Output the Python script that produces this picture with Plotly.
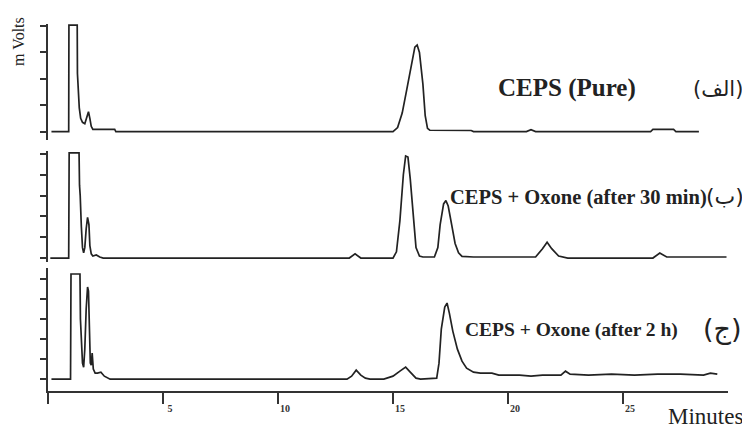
import plotly.graph_objects as go

# ---- data (time in minutes, response in mV-like units) ----
t_pure = [0.15, 0.9, 0.91, 1.27, 1.28, 1.32, 1.36, 1.42, 1.5, 1.6, 1.7, 1.76, 1.82, 1.88, 1.95,
          2.9, 2.95, 15.0, 15.2, 15.4, 15.6, 15.8, 15.95, 16.05, 16.15, 16.3, 16.4, 16.5, 16.6,
          18.4, 18.5, 20.8, 21.0, 21.2, 26.2, 26.3, 27.2, 27.3, 28.3]
v_pure = [0, 0, 4.04, 4.04, 2.2, 1.3, 0.9, 0.5, 0.35, 0.3, 0.55, 0.75, 0.5, 0.2, 0.08,
          0.08, 0, 0, 0.15, 0.7, 1.6, 2.6, 3.2, 3.28, 3.0, 1.8, 0.6, 0.12, 0.05,
          0.04, 0, 0, 0.07, 0, 0, 0.08, 0.08, 0, 0]

t_30min = [0.1, 0.9, 0.92, 1.35, 1.37, 1.40, 1.45, 1.5, 1.55, 1.6, 1.66, 1.72, 1.78, 1.82, 1.88,
           1.95, 2.1, 2.25, 2.4, 13.1, 13.35, 13.6, 15.0, 15.15, 15.3, 15.45, 15.55, 15.65, 15.75,
           15.9, 16.0, 16.15, 16.3, 16.8, 16.95, 17.05, 17.2, 17.3, 17.4, 17.55, 17.7, 17.85, 18.0,
           18.5, 21.2, 21.5, 21.7, 21.9, 22.2, 22.6, 26.3, 26.6, 26.9, 29.5]
v_30min = [0, 0, 5.05, 5.05, 3.5, 3.0, 1.5, 0.5, 0.25, 0.5, 1.4, 1.95, 1.6, 0.6, 0.2,
           0.1, 0.15, 0.05, 0, 0, 0.2, 0, 0, 0.3, 1.8, 4.0, 4.9, 4.85, 3.8,
           1.8, 0.5, 0.1, 0.05, 0.05, 0.5, 1.6, 2.6, 2.76, 2.5, 1.6, 0.7, 0.25, 0.08,
           0.05, 0.05, 0.45, 0.76, 0.45, 0.1, 0, 0, 0.24, 0.05, 0.05]

t_2h = [0.15, 0.98, 1.0, 1.39, 1.41, 1.45, 1.5, 1.55, 1.6, 1.66, 1.72, 1.76, 1.8, 1.84, 1.88,
        1.92, 1.97, 2.05, 2.15, 2.3, 2.45, 2.6, 2.7, 13.0, 13.2, 13.4, 13.6, 13.8, 14.0, 14.6,
        15.0, 15.3, 15.55, 15.75, 16.0, 16.2, 16.9, 17.0, 17.1, 17.25, 17.35, 17.45, 17.6, 17.8,
        18.0, 18.2, 18.5, 18.8, 19.3, 19.6, 20.5, 21.0, 21.5, 22.3, 22.5, 22.7, 23.5, 24.5,
        25.5, 26.5, 27.5, 28.5, 28.8, 29.1]
v_2h = [0, 0, 5.25, 5.25, 3.0, 1.5, 0.8, 0.6, 1.5, 3.5, 4.6, 4.4, 2.0, 0.8, 0.7,
        1.3, 0.5, 0.3, 0.3, 0.35, 0.15, 0.05, 0, 0, 0.15, 0.45, 0.2, 0.05, 0, 0,
        0.15, 0.4, 0.6, 0.35, 0.05, 0, 0.05, 0.8, 2.5, 3.6, 3.8, 3.3, 2.4, 1.5,
        0.9, 0.55, 0.35, 0.3, 0.3, 0.2, 0.2, 0.15, 0.2, 0.2, 0.4, 0.25, 0.2, 0.25,
        0.2, 0.25, 0.25, 0.2, 0.3, 0.25]

x_tickvals = [0, 5, 10, 15, 20, 25]
x_ticktext = ["", "5", "10", "15", "20", "25"]
label_pure = "CEPS (Pure)"
label_30 = "CEPS + Oxone (after 30 min)"
label_2h = "CEPS + Oxone (after 2 h)"
ar_a, ar_b, ar_c = "(الف)", "(ب)", "(ج)"

# ---- layout geometry (page body has an 8px margin, so the figure is shifted by OFF) ----
OFF = 8
W, H = 750 - OFF, 432 - OFF
L, T = 48 - OFF, 24 - OFF
R = W - (728 - OFF)
B = H - (391 - OFF)
PW, PH = W - L - R, H - T - B


def px(x):
    return (x - OFF - L) / PW


def py(y):
    return (H - B - (y - OFF)) / PH


SERIF = "Times New Roman, Liberation Serif, DejaVu Serif, serif"
LINE = "#222222"
fig = go.Figure()
fig.add_trace(go.Scatter(x=t_pure, y=v_pure, mode="lines", line=dict(color=LINE, width=1.7),
                         xaxis="x", yaxis="y3", showlegend=False))
fig.add_trace(go.Scatter(x=t_30min, y=v_30min, mode="lines", line=dict(color=LINE, width=1.7),
                         xaxis="x", yaxis="y2", showlegend=False))
fig.add_trace(go.Scatter(x=t_2h, y=v_2h, mode="lines", line=dict(color=LINE, width=1.7),
                         xaxis="x", yaxis="y", showlegend=False))

yax_common = dict(showline=True, linecolor="#333", linewidth=2, ticks="outside", ticklen=6,
                  tickcolor="#333", tickwidth=1.5, showticklabels=False, showgrid=False,
                  zeroline=False, anchor="x", automargin=False)

fig.update_layout(
    template="none",
    width=W, height=H, margin=dict(l=L, r=R, t=T, b=B, autoexpand=False),
    paper_bgcolor="white", plot_bgcolor="white",
    font=dict(family=SERIF, color="#222"),
    xaxis=dict(range=[0, PW / 23.0], showline=True, linecolor="#333", linewidth=2,
               ticks="outside", ticklen=11, tickcolor="#333", tickwidth=1.5,
               tickvals=x_tickvals, ticktext=x_ticktext, showgrid=False, zeroline=False,
               tickfont=dict(size=10, family=SERIF, color="#333", weight="bold"),
               ticklabelshift=7, ticklabelstandoff=-4, automargin=False),
    yaxis=dict(domain=[0, py(268)], range=[-0.59, 5.55], tickvals=[0, 1, 2, 3, 4, 5], **yax_common),
    yaxis2=dict(domain=[py(262), py(151)], range=[-0.19, 5.14], tickvals=[0, 1, 2, 3, 4, 5], **yax_common),
    yaxis3=dict(domain=[py(140), 1.0], range=[-0.32, 4.08], tickvals=[0, 1, 2, 3, 4], **yax_common),
)

ann = [
    dict(text="m Volts", x=px(18), y=py(41), textangle=-90, font=dict(size=16, family=SERIF)),
    dict(text=label_pure, x=px(567), y=py(88), font=dict(size=25, family=SERIF, weight="bold")),
    dict(text=ar_a, x=px(745), y=py(89), xanchor="right", font=dict(size=21, family="DejaVu Sans")),
    dict(text=label_30, x=px(448), y=py(197), xanchor="left", font=dict(size=20.5, family=SERIF, weight="bold")),
    dict(text=ar_b, x=px(746), y=py(196), xanchor="right", font=dict(size=22, family="DejaVu Sans")),
    dict(text=label_2h, x=px(463), y=py(330), xanchor="left", font=dict(size=19.5, family=SERIF, weight="bold")),
    dict(text=ar_c, x=px(744), y=py(329), xanchor="right", font=dict(size=27, family="DejaVu Sans")),
    dict(text="Minutes", x=px(745), y=py(431), xanchor="right", yanchor="bottom",
         font=dict(size=23, family=SERIF)),
]
for a in ann:
    a.update(xref="paper", yref="paper", showarrow=False)
    a.setdefault("xanchor", "center")
    a.setdefault("yanchor", "middle")
fig.update_layout(annotations=ann)

fig.write_html("out.html")
